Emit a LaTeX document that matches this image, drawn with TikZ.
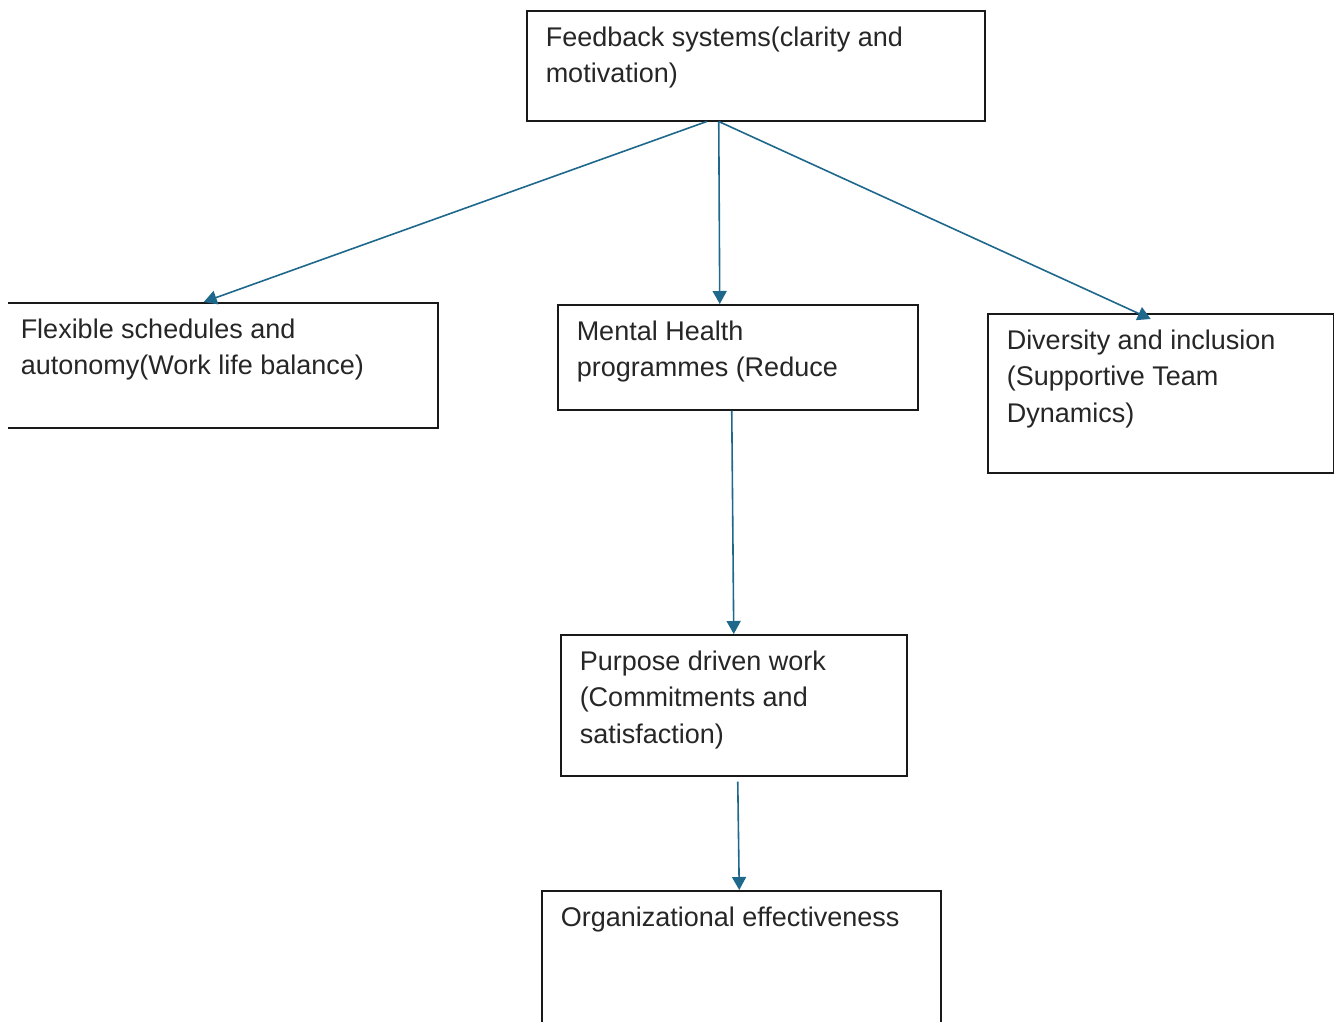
\documentclass[tikz,border=0pt]{standalone}
\usepackage{fontspec}
\setmainfont{Liberation Sans}
\usepackage{tikz}
\usetikzlibrary{arrows.meta}
\definecolor{flowblue}{RGB}{30,104,140}
\newcommand{\cardtext}[3]{\parbox[c][\dimexpr#2pt-32pt\relax][t]{\dimexpr#1pt-38pt\relax}{\raggedright #3}}
\tikzset{card/.style={draw=black!90, line width=1.5pt, anchor=north west, text=black!85,
    inner xsep=19pt, inner ysep=16pt, font=\fontsize{27}{36.5}\selectfont}}

\begin{document}
\begin{tikzpicture}[x=1pt, y=-1pt, line width=1.6pt,
    flow/.style={color=flowblue, -{Triangle[length=13pt,width=14pt]}}]
    \useasboundingbox (0,0) rectangle (1334,1021);
    \clip (8,0) rectangle (1334,1021);

    \node[card] (fb)   at (526, 10)  {\cardtext{458}{110}{Feedback systems(clarity and\\motivation)}};
    \node[card] (flex) at (1, 302)   {\cardtext{436}{125}{Flexible schedules and\\autonomy(Work life balance)}};
    \node[card] (mh)   at (557, 304) {\cardtext{360}{105}{Mental Health\\programmes (Reduce}};
    \node[card] (div)  at (987, 313) {\cardtext{346}{159}{Diversity and inclusion\\(Supportive Team\\Dynamics)}};
    \node[card] (pur)  at (560, 634) {\cardtext{346}{141}{Purpose driven work\\(Commitments and\\satisfaction)}};
    \node[card] (org)  at (541, 890) {\cardtext{399}{160}{Organizational effectiveness}};

    \draw[flow] ([xshift=-49]fb.south) -- ([xshift=-16]flex.north);
    \draw[flow] ([xshift=-37]fb.south) -- ([xshift=-18]mh.north);
    \draw[flow] ([xshift=-37]fb.south) -- ([xshift=-10,yshift=-6]div.north);
    \draw[flow] ([xshift=-6]mh.south) -- (pur.north);
    \draw[flow] ([xshift=4,yshift=-5]pur.south) -- ([xshift=-2]org.north);
  \end{tikzpicture}
\end{document}
